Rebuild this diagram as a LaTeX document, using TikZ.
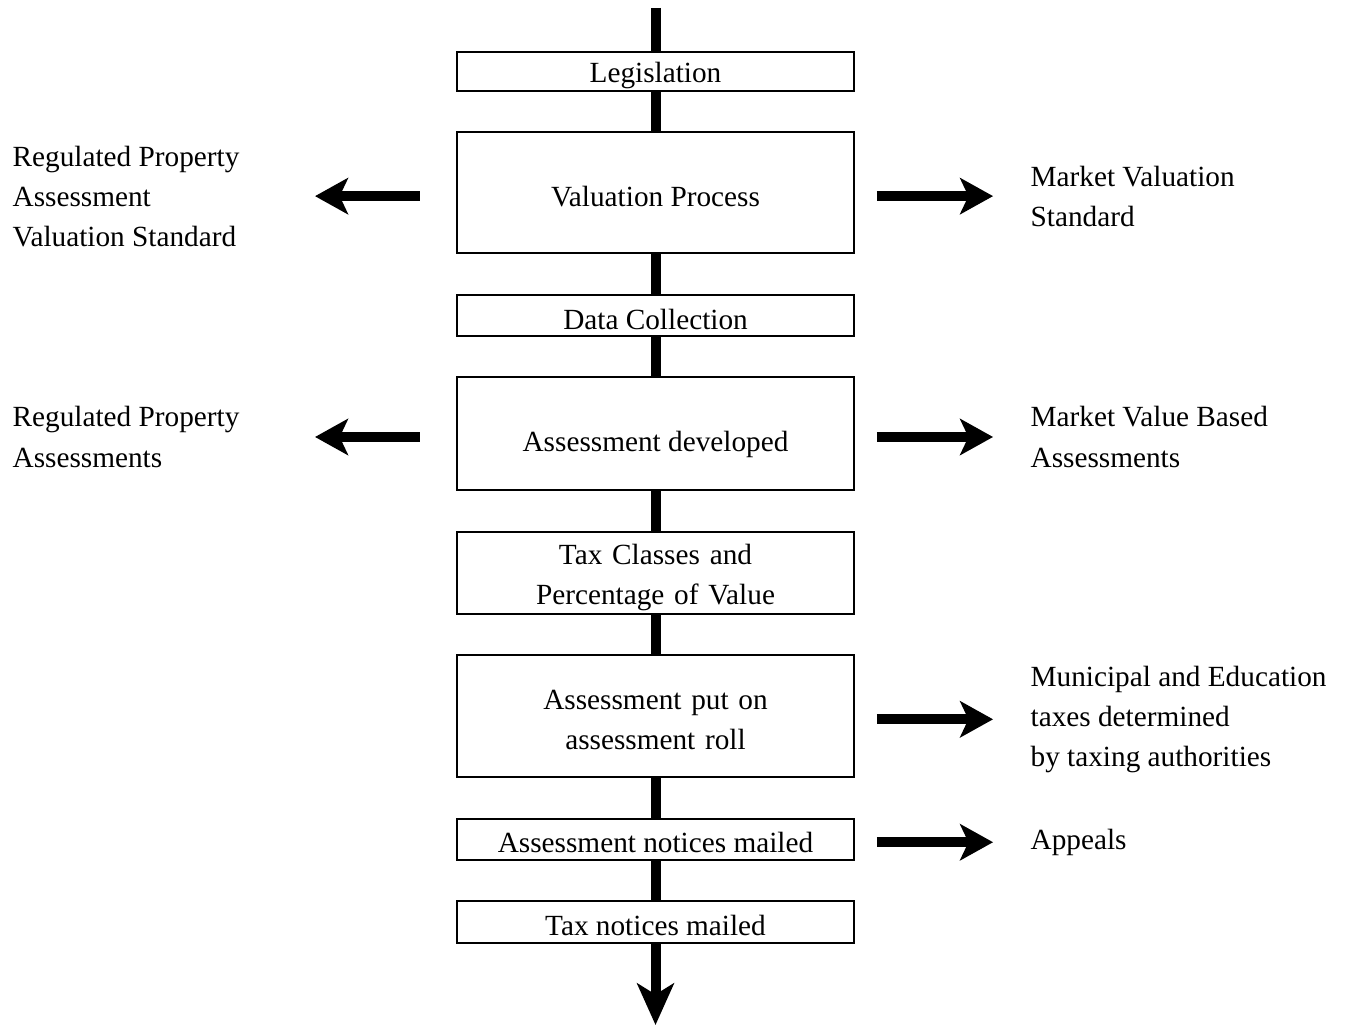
\documentclass[tikz,border=0pt]{standalone}
\usepackage{fontspec}
\setmainfont{Liberation Serif}
\usetikzlibrary{positioning}
\usetikzlibrary{arrows.meta}
\tikzstyle{lift} = [execute at begin node={\rule{0pt}{#1}}]
\tikzstyle{stage} = [draw=black, line width=0.8pt, minimum width=162.8pt, inner sep=0pt, outer sep=0pt, align=center, font=\fontsize{12}{16.4}\selectfont, lift=11.4pt]
\tikzstyle{twoline} = [text width=162.8pt]
\tikzstyle{note} = [inner sep=0pt, align=left, font=\fontsize{12}{16.4}\selectfont, yshift=-1.3pt]
\tikzstyle{trunk} = [line width=4.1pt]

\begin{document}
\begin{tikzpicture}[x=0.41pt, y=-0.41pt, node distance=17pt,
  side/.style={line width=4.1pt, -{Stealth[length=13.5pt, width=14.8pt, inset=3.4pt]}},
  toright/.style={side, shorten <=9.4pt, shorten >=15.2pt},
  toleft/.style={side, shorten <=15.2pt, shorten >=30.8pt}]
\useasboundingbox (0,0) rectangle (1345,1026);

% Define nodes
\node[stage, minimum height=16pt] at (655.5,71.5)                          (leg)  {Legislation};
\node[stage, minimum height=49.6pt, below = of leg]                        (val)  {Valuation Process};
\node[stage, minimum height=16.8pt, below = of val]                        (dat)  {Data Collection};
\node[stage, minimum height=46.3pt, below = of dat, lift=17.1pt]           (dev)  {Assessment developed};
\node[stage, twoline, minimum height=33.6pt, below = of dev, lift=12.6pt]  (cls)  {Tax Classes and\\Percentage of Value};
\node[stage, twoline, minimum height=50pt,   below = of cls, lift=10.1pt]  (roll) {Assessment put on\\assessment roll};
\node[stage, minimum height=16.8pt, below = of roll]                       (ntc)  {Assessment notices mailed};
\node[stage, minimum height=17.2pt, below = of ntc]                        (tax)  {Tax notices mailed};

\node[note, left  = 89pt of val]    (rpv) {Regulated Property\\Assessment\\Valuation Standard};
\node[note, right = 72.2pt of val]  (mvs) {Market Valuation\\Standard};
\node[note, left  = 89pt of dev]    (rpa) {Regulated Property\\Assessments};
\node[note, right = 72.2pt of dev]  (mvb) {Market Value Based\\Assessments};
\node[note, right = 72.2pt of roll] (mun) {Municipal and Education\\taxes determined\\by taxing authorities};
\node[note, right = 72.2pt of ntc]  (apl) {Appeals};

\coordinate (start)  at (655.5,8);
\coordinate (finish) at (655.5,1025);

% Edges
\draw[trunk] (start) -- (leg);
\foreach \a/\b in {leg/val, val/dat, dat/dev, dev/cls, cls/roll, roll/ntc, ntc/tax}
  \draw[trunk] (\a) -- (\b);
\draw[trunk, -{Stealth[length=17pt, width=15pt, inset=4.5pt]}] (tax) -- (finish);

\draw[toleft]  (val.west |- rpv)  -- (rpv);
\draw[toright] (val.east |- mvs)  -- (mvs);
\draw[toleft]  (dev.west |- rpa)  -- (rpa);
\draw[toright] (dev.east |- mvb)  -- (mvb);
\draw[toright] (roll.east |- mun) -- (mun);
\draw[toright] (ntc.east |- apl)  -- (apl);
\end{tikzpicture}
\end{document}
